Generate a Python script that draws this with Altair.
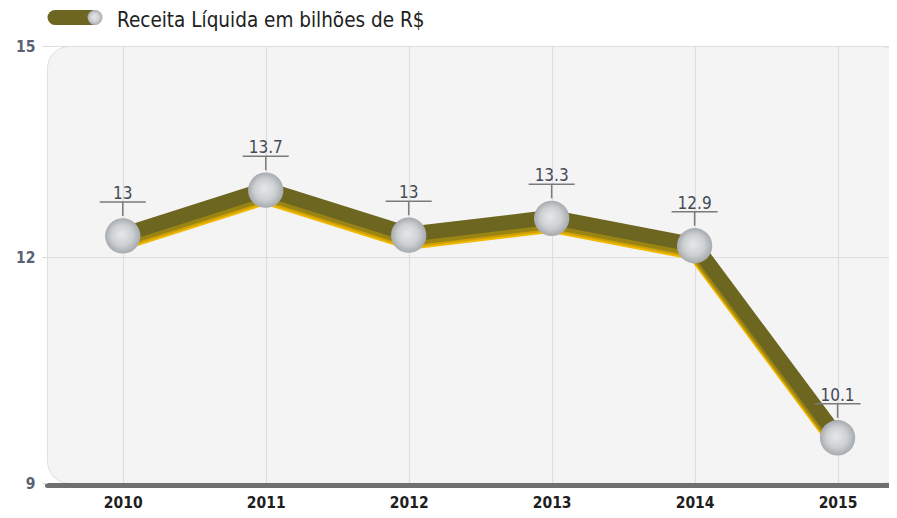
import altair as alt
import pandas as pd

# ---- data ----
anos = [2010, 2011, 2012, 2013, 2014, 2015]
receita = [13, 13.7, 13, 13.3, 12.9, 10.1]          # printed labels (R$ bi)
altura = [12.30, 12.95, 12.31, 12.55, 12.16, 9.60]  # plotted height
eixo_y = [9, 12, 15]
titulo = "Receita Líquida em bilhões de R$"

FONT = "DejaVu Sans Condensed, DejaVu Sans, sans-serif"
OLIVA = "#6c6620"
AMARELO = "#f0b800"

df = pd.DataFrame({"ano": anos, "valor": receita, "pos": altura})
df["rotulo"] = [f"{v:g}" for v in receita]

W, H = 856, 437
xs = alt.Scale(domain=[2009.47, 2009.47 + W / 142.96], nice=False, zero=False)
ys = alt.Scale(domain=[9, 12, 15], range=[H, 211, 0], nice=False, zero=False)

X = alt.X("ano:Q", scale=xs,
          axis=alt.Axis(values=anos, format="d", title=None, ticks=False,
                        labelFont=FONT, labelFontSize=15.5, labelFontWeight="bold",
                        labelColor="#1e1e1e", labelPadding=10,
                        domainColor="#6f6f6f", domainWidth=5, domainCap="round",
                        offset=2, grid=True, gridColor="#dedede", gridWidth=1.2))
Y = alt.Y("pos:Q", scale=ys,
          axis=alt.Axis(values=eixo_y, title=None, domain=False,
                        tickColor="#d8d8d8", tickSize=5, labelPadding=7,
                        labelFont=FONT, labelFontSize=15.5, labelFontWeight="bold",
                        labelColor="#5a6172", grid=True, gridColor="#dedede", gridWidth=1.2))

base = alt.Chart(df)

sombra = base.mark_line(color=AMARELO, strokeWidth=15, strokeJoin="round", yOffset=7).encode(x=X, y=Y)
meio = base.mark_line(color="#cfa004", strokeWidth=15, strokeJoin="round", yOffset=5).encode(x=X, y=Y)
meio2 = base.mark_line(color="#9a8414", strokeWidth=15, strokeJoin="round", yOffset=3).encode(x=X, y=Y)
linha = base.mark_line(color=OLIVA, strokeWidth=15, strokeJoin="round", yOffset=-1).encode(x=X, y=Y)

haste = base.mark_rule(color="#7a7a7a", strokeWidth=1.5, yOffset=-20, y2Offset=-34).encode(
    x=X, y=Y, y2="pos:Q")
barra = base.mark_rule(color="#7a7a7a", strokeWidth=1.5, xOffset=-23, x2Offset=23, yOffset=-34).encode(
    x=X, x2="ano:Q", y=Y)

esfera_grad = alt.RadialGradient(
    gradient="radial", x1=0.45, y1=0.45, r1=0, x2=0.5, y2=0.5, r2=0.5,
    stops=[alt.GradientStop(color="#e6e7e8", offset=0),
           alt.GradientStop(color="#cdd0d2", offset=0.6),
           alt.GradientStop(color="#a7aaae", offset=1)])
esferas = base.mark_point(filled=True, size=1250, opacity=1, color=esfera_grad, shape="circle").encode(x=X, y=Y)

textos = base.mark_text(font=FONT, fontSize=17, color="#444a56", baseline="alphabetic",
                        yOffset=-37).encode(x=X, y=Y, text="rotulo:N")

leg = alt.Chart(pd.DataFrame({"k": [0], "t": [titulo]}))
leg_pilula = leg.mark_rule(color=OLIVA, strokeWidth=15, strokeCap="round").encode(
    x=alt.value(8), x2=alt.value(45), y=alt.value(-28.5))
leg_esfera = leg.mark_point(filled=True, size=225, opacity=1, color=esfera_grad, shape="circle").encode(
    x=alt.value(48), y=alt.value(-28.5))
leg_texto = leg.mark_text(font=FONT, fontSize=20.5, color="#222222", align="left",
                          baseline="alphabetic").encode(
    x=alt.value(70), y=alt.value(-19), text="t:N")

chart = alt.layer(sombra, meio, meio2, linha, haste, barra, esferas, textos,
                  leg_pilula, leg_esfera, leg_texto).properties(
    width=W, height=H,
    padding={"left": 39, "top": 38, "right": -14, "bottom": 30},
    autosize=alt.AutoSizeParams(type="none"),
).configure_view(fill="#f4f4f4", stroke="#e0e0e0", cornerRadius=22)

chart.save("out.html", embed_options={"renderer": "svg", "actions": False})
